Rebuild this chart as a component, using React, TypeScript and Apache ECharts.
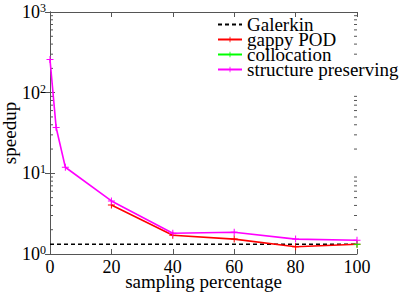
import React, { useEffect, useRef } from "react";
import * as echarts from "echarts";

const xTicks = [0, 20, 40, 60, 80, 100];
const yMin = 1;
const yMax = 1000;
const minorTickValues = [2, 3, 4, 5, 6, 7, 8, 9, 20, 30, 40, 50, 60, 70, 80, 90, 200, 300, 400, 500, 600, 700, 800, 900];

const galerkinPct = [0, 100];
const galerkin = [1.32, 1.32];
const gappyPct = [20, 40, 60, 80, 100];
const gappyPOD = [4.06, 1.71, 1.53, 1.23, 1.32];
const collocationPct = [100];
const collocation = [1.32];
const structurePct = [0, 2, 5, 20, 40, 60, 80, 100];
const structurePreserving = [257, 37, 11.9, 4.55, 1.81, 1.86, 1.53, 1.48];

const FONT = "Liberation Serif";
const AXIS_COLOR = "#555555";
const PLUS = "path://M3,0h1v3h3v1h-3v3h-1v-3h-3v-1h3z";

const pair = (xs: number[], ys: number[]) => xs.map((x, i) => [x, ys[i]]);

export default function App() {
  const ref = useRef<HTMLDivElement>(null);
  useEffect(() => {
    document.body.style.margin = "0";
    const chart = echarts.init(ref.current!, undefined, { renderer: "svg" });
    const lineSeries = (name: string, data: number[][], color: string, dashed = false) => ({
      name,
      type: "line",
      data,
      xAxisIndex: 0,
      yAxisIndex: 0,
      symbol: dashed ? "none" : PLUS,
      symbolSize: 7,
      showSymbol: !dashed,
      itemStyle: { color },
      lineStyle: { color, width: 1.6, type: dashed ? [4, 3] : "solid" },
      z: 3,
    });
    chart.setOption({
      animation: false,
      textStyle: { fontFamily: FONT },
      grid: { left: 50, right: 42, top: 12, bottom: 38, containLabel: false, outerBoundsMode: "none" },
      legend: {
        orient: "vertical",
        left: 212,
        top: 10,
        itemWidth: 24,
        itemHeight: 7,
        itemGap: -4,
        data: [
          { name: "Galerkin", itemStyle: { color: "transparent", opacity: 0 } },
          "gappy POD",
          "collocation",
          "structure preserving",
        ],
        textStyle: { fontFamily: FONT, fontSize: 19, lineHeight: 15, color: "#000" },
      },
      xAxis: [
        {
          type: "value",
          min: xTicks[0],
          max: xTicks[xTicks.length - 1],
          interval: 20,
          position: "bottom",
          name: "sampling percentage",
          nameLocation: "middle",
          nameGap: 18,
          nameMoveOverlap: false,
          nameTextStyle: { fontFamily: FONT, fontSize: 19, color: "#000" },
          axisLine: { show: true, lineStyle: { color: AXIS_COLOR } },
          axisTick: { show: true, inside: true, length: 5, lineStyle: { color: AXIS_COLOR } },
          axisLabel: { fontFamily: FONT, fontSize: 18, color: "#000", margin: 4 },
          splitLine: { show: false },
        },
        {
          type: "value",
          min: xTicks[0],
          max: xTicks[xTicks.length - 1],
          interval: 20,
          position: "top",
          axisLine: { show: true, lineStyle: { color: AXIS_COLOR } },
          axisTick: { show: true, inside: true, length: 5, lineStyle: { color: AXIS_COLOR } },
          axisLabel: { show: false },
          splitLine: { show: false },
        },
      ],
      yAxis: [
        {
          type: "log",
          logBase: 10,
          min: yMin,
          max: yMax,
          position: "left",
          name: "speedup",
          nameLocation: "middle",
          nameGap: 31,
          nameMoveOverlap: false,
          nameTextStyle: { fontFamily: FONT, fontSize: 19, color: "#000" },
          axisLine: { show: true, lineStyle: { color: AXIS_COLOR } },
          axisTick: { show: true, inside: true, length: 5, lineStyle: { color: AXIS_COLOR } },
          axisLabel: {
            margin: 4,
            fontFamily: FONT,
            formatter: (v: number) => `{b|10}{s|${Math.round(Math.log10(v))}}`,
            rich: {
              b: { fontFamily: FONT, fontSize: 18, color: "#000" },
              s: { fontFamily: FONT, fontSize: 12, color: "#000", verticalAlign: "top", padding: [0, 0, 8, 0] },
            },
          },
          splitLine: { show: false },
        },
        {
          type: "log",
          logBase: 10,
          min: yMin,
          max: yMax,
          position: "right",
          axisLine: { show: true, lineStyle: { color: AXIS_COLOR } },
          axisTick: { show: true, inside: true, length: 5, lineStyle: { color: AXIS_COLOR } },
          axisLabel: { show: false },
          splitLine: { show: false },
        },
      ],
      series: [
        {
          type: "custom",
          name: "minorTicks",
          xAxisIndex: 0,
          yAxisIndex: 0,
          silent: true,
          data: minorTickValues.map((v) => [0, v]),
          renderItem: (params: any, api: any) => {
            const cs = params.coordSys;
            const y = api.coord([0, api.value(1)])[1];
            const style = { stroke: AXIS_COLOR, lineWidth: 1 };
            return {
              type: "group",
              children: [
                { type: "line", shape: { x1: cs.x, y1: y, x2: cs.x + 3, y2: y }, style },
                { type: "line", shape: { x1: cs.x + cs.width - 3, y1: y, x2: cs.x + cs.width, y2: y }, style },
              ],
            };
          },
          z: 1,
        },
        lineSeries("Galerkin", pair(galerkinPct, galerkin), "#000000", true),
        lineSeries("gappy POD", pair(gappyPct, gappyPOD), "#ff0000"),
        lineSeries("collocation", pair(collocationPct, collocation), "#00ff00"),
        lineSeries("structure preserving", pair(structurePct, structurePreserving), "#ff00ff"),
      ],
    });
    return () => chart.dispose();
  }, []);
  return <div ref={ref} style={{ width: 399, height: 292 }} />;
}
